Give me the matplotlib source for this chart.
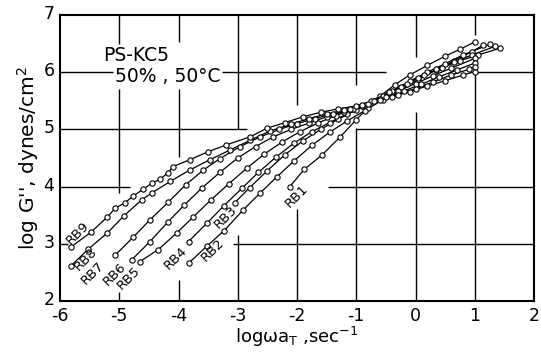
import matplotlib
matplotlib.use("Agg")
import matplotlib.pyplot as plt
import matplotlib.transforms as mtransforms

plt.rcParams['font.family'] = ['DejaVu Sans']
plt.rcParams['axes.unicode_minus'] = False

# ---- data ----
rb9_x = [-5.82, -5.48, -5.21, -5.07, -4.90, -4.76, -4.60, -4.45, -4.31, -4.18, -4.09, -3.81, -3.50, -3.19, -2.79, -2.51, -2.20, -1.90, -1.60, -1.30, -1.00, -0.70, -0.40, -0.10, 0.20, 0.50, 0.80, 1.00]
rb9_y = [2.94, 3.20, 3.46, 3.62, 3.72, 3.84, 3.95, 4.06, 4.13, 4.24, 4.35, 4.47, 4.61, 4.73, 4.87, 5.02, 5.12, 5.22, 5.30, 5.36, 5.41, 5.49, 5.57, 5.66, 5.76, 5.85, 5.95, 6.01]

rb8_x = [-5.82, -5.52, -5.20, -4.92, -4.62, -4.45, -4.14, -3.81, -3.47, -3.13, -2.79, -2.46, -2.10, -1.80, -1.50, -1.20, -0.90, -0.60, -0.30, 0.00, 0.30, 0.60, 0.90, 1.00]
rb8_y = [2.61, 2.91, 3.19, 3.49, 3.77, 3.89, 4.09, 4.29, 4.47, 4.64, 4.81, 4.97, 5.09, 5.19, 5.27, 5.34, 5.42, 5.51, 5.61, 5.71, 5.83, 5.95, 6.05, 6.09]

rb7_x = [-5.07, -4.76, -4.48, -4.17, -3.88, -3.58, -3.30, -2.96, -2.62, -2.30, -2.00, -1.70, -1.40, -1.10, -0.80, -0.50, -0.20, 0.10, 0.40, 0.70, 1.00]
rb7_y = [2.80, 3.12, 3.42, 3.73, 4.03, 4.29, 4.49, 4.70, 4.87, 5.00, 5.10, 5.19, 5.27, 5.35, 5.45, 5.56, 5.67, 5.79, 5.92, 6.04, 6.16]

rb6_x = [-4.79, -4.48, -4.18, -3.90, -3.60, -3.30, -3.00, -2.70, -2.40, -2.10, -1.80, -1.50, -1.20, -0.90, -0.60, -0.30, 0.00, 0.30, 0.60, 1.00]
rb6_y = [2.72, 3.04, 3.38, 3.68, 3.98, 4.25, 4.50, 4.70, 4.87, 5.00, 5.11, 5.22, 5.31, 5.41, 5.54, 5.67, 5.80, 5.94, 6.07, 6.24]

rb5_x = [-4.65, -4.34, -4.03, -3.75, -3.45, -3.15, -2.85, -2.55, -2.25, -1.95, -1.65, -1.35, -1.05, -0.75, -0.45, -0.15, 0.15, 0.45, 0.75, 1.05, 1.43]
rb5_y = [2.69, 2.90, 3.19, 3.47, 3.77, 4.05, 4.32, 4.57, 4.78, 4.96, 5.11, 5.24, 5.35, 5.50, 5.65, 5.80, 5.95, 6.08, 6.20, 6.30, 6.42]

rb4_x = [-3.83, -3.52, -3.24, -2.93, -2.65, -2.35, -2.05, -1.75, -1.45, -1.15, -0.85, -0.55, -0.25, 0.05, 0.35, 0.65, 0.95, 1.34]
rb4_y = [3.04, 3.36, 3.66, 3.97, 4.25, 4.52, 4.76, 4.96, 5.12, 5.27, 5.42, 5.58, 5.74, 5.90, 6.05, 6.18, 6.30, 6.45]

rb3_x = [-3.05, -2.80, -2.50, -2.20, -1.90, -1.60, -1.30, -1.00, -0.70, -0.40, -0.10, 0.20, 0.50, 0.80, 1.26]
rb3_y = [3.72, 3.98, 4.28, 4.56, 4.80, 5.00, 5.18, 5.34, 5.50, 5.67, 5.84, 6.00, 6.15, 6.30, 6.49]

rb2_x = [-3.83, -3.52, -3.23, -2.91, -2.62, -2.34, -2.05, -1.75, -1.45, -1.15, -0.85, -0.55, -0.25, 0.05, 0.35, 0.65, 0.95, 1.14]
rb2_y = [2.66, 2.96, 3.23, 3.59, 3.89, 4.17, 4.45, 4.72, 4.95, 5.15, 5.33, 5.52, 5.70, 5.87, 6.04, 6.20, 6.36, 6.47]

rb1_x = [-2.12, -1.88, -1.58, -1.27, -1.00, -0.80, -0.60, -0.35, -0.10, 0.20, 0.50, 0.75, 1.00]
rb1_y = [4.00, 4.30, 4.55, 4.87, 5.17, 5.38, 5.58, 5.78, 5.95, 6.12, 6.28, 6.40, 6.53]

series_names = ["RB1", "RB2", "RB3", "RB4", "RB5", "RB6", "RB7", "RB8", "RB9"]
series_x = [rb1_x, rb2_x, rb3_x, rb4_x, rb5_x, rb6_x, rb7_x, rb8_x, rb9_x]
series_y = [rb1_y, rb2_y, rb3_y, rb4_y, rb5_y, rb6_y, rb7_y, rb8_y, rb9_y]

x_ticks = [-6, -5, -4, -3, -2, -1, 0, 1, 2]
y_ticks = [2, 3, 4, 5, 6, 7]

# ---- layout / annotation positions ----
label_xy = {"RB1": (-2.00, 3.84), "RB2": (-3.42, 2.89), "RB3": (-3.20, 3.47),
            "RB4": (-4.04, 2.75), "RB5": (-4.84, 2.40), "RB6": (-5.07, 2.47),
            "RB7": (-5.44, 2.49), "RB8": (-5.56, 2.73), "RB9": (-5.70, 3.19)}

# broken grid segments (value, from, to)
h_segments = [(6, -6, -5.1), (6, -3.27, -0.5), (6, 1.0, 2),
              (5, -6, -2.85), (5, -1, 2),
              (4, -6, -4.82), (4, -1.48, 2),
              (3, -6, -5.87), (3, -3.08, 2)]
v_segments = [(-5, 6.5, 7), (-5, 3.88, 5.70), (-5, 2, 2.15),
              (-4, 6.52, 7), (-4, 4.52, 5.70), (-4, 2, 2.37),
              (-3, 5.0, 7), (-3, 2, 3.15),
              (-2, 5.43, 7), (-2, 2, 3.6),
              (-1, 5.78, 7), (-1, 2, 5.02),
              (0, 6.27, 7), (0, 2, 5.3),
              (1, 6.65, 7), (1, 2, 6.0)]

fig = plt.figure(figsize=(5.41, 3.53), dpi=100)
ax = fig.add_axes([60/541, 1-301/353, (534-60)/541, (301-15)/353])

for y, a, b in h_segments:
    ax.hlines(y, a, b, color='black', lw=1.0, zorder=1)
for x, a, b in v_segments:
    ax.vlines(x, a, b, color='black', lw=1.0, zorder=1)

for name, xs, ys in zip(series_names, series_x, series_y):
    ax.plot(xs, ys, '-', color='black', lw=0.9, zorder=2)
    ax.plot(xs, ys, 'o', ms=3.8, mfc='white', mec='black', mew=0.8, zorder=3)
    lx, ly = label_xy[name]
    ax.text(lx, ly, name, rotation=45, ha='center', va='center',
            fontsize=9.5, zorder=4, rotation_mode='anchor')

ax.text(-5.27, 6.30, "PS-KC5", fontsize=13.5, ha='left', va='center')
ax.text(-5.07, 5.93, "50% , 50°C", fontsize=13.5, ha='left', va='center')

ax.set_xlim(-6, 2)
ax.set_ylim(2, 7)
ax.set_xticks(x_ticks)
ax.set_yticks(y_ticks)
ax.set_xticklabels([str(v) for v in x_ticks])
ax.set_yticklabels([str(v) for v in y_ticks])
ax.tick_params(length=0, labelsize=12.5)
ax.tick_params(axis='x', pad=4)
ax.tick_params(axis='y', pad=4)
shift_up = mtransforms.ScaledTranslation(0, 3/100, fig.dpi_scale_trans)
for lab in ax.get_yticklabels():
    lab.set_transform(lab.get_transform() + shift_up)
for s in ax.spines.values():
    s.set_linewidth(1.5)

ax.set_xlabel("logωa$_\\mathregular{T}$ ,sec$^{\\mathregular{-1}}$", fontsize=13, labelpad=0)
ax.set_ylabel("log G'', dynes/cm$^\\mathregular{2}$", fontsize=14.5, labelpad=2)

fig.savefig("out.png", dpi=100)
